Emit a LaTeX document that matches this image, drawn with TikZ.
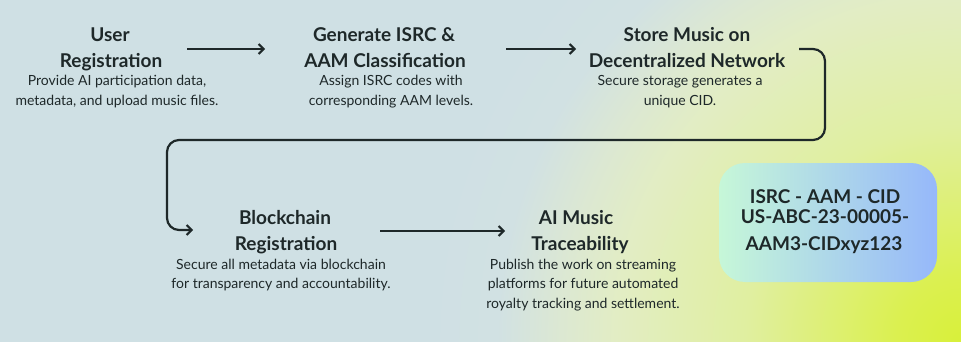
\documentclass[tikz,border=0pt]{standalone}
\usepackage{fontspec}
\setmainfont{Lato}
\usetikzlibrary{arrows.meta}
\definecolor{bg}{HTML}{CFE0E4}
\definecolor{ink}{HTML}{1E2829}
\definecolor{g0}{HTML}{D8F03A}
\definecolor{g1}{HTML}{DBF050}
\definecolor{g2}{HTML}{E0EFA0}
\definecolor{g3}{HTML}{E2EDC4}
\definecolor{g4}{HTML}{DCE8D2}
\definecolor{g5}{HTML}{D1E1E3}
\definecolor{mint}{HTML}{C6F7D8}
\definecolor{sky}{HTML}{96B8FA}
\pgfdeclareradialshading{glow}{\pgfpoint{0bp}{0bp}}{color(0bp)=(g0); color(3bp)=(g1); color(10bp)=(g2); color(16bp)=(g3); color(18.5bp)=(g4); color(21.5bp)=(g5); color(25bp)=(bg); color(50bp)=(bg)}
\begin{document}
\begin{tikzpicture}[x=1pt,y=-1pt,
  ttl/.style={anchor=base,inner sep=0pt,text=ink,font=\bfseries\fontsize{19}{22}\selectfont},
  txt/.style={anchor=base,inner sep=0pt,text=ink,font=\fontsize{14}{16}\selectfont},
  arr/.style={draw=ink,line width=2.2pt,-{Straight Barb[length=5pt,width=10pt,line width=2pt]}},
  conn/.style={draw=ink,line width=2.2pt,rounded corners=12pt,-{Straight Barb[length=5pt,width=10pt,line width=2pt]}},
  idbox/.style={rounded corners=26pt,left color=mint,right color=sky,draw=none}]
\useasboundingbox (0,0) rectangle (961,342);
\fill[bg] (0,0) rectangle (961,342);
\begin{scope}
\clip (0,0) rectangle (961,342);
\shade[shading=glow] (961,342) circle[radius=540];
\end{scope}
% step 1
\node[ttl] (s1a) at (110,42) {User};
\node[ttl] (s1b) at (111,68) {Registration};
\node[txt] (s1c) at (117,86) {Provide AI participation data,};
\node[txt] (s1d) at (117,106) {metadata, and upload music files.};
% step 2
\node[ttl] (s2a) at (384,42) {Generate ISRC \&};
\node[ttl] (s2b) at (385,68) {AAM Classification};
\node[txt] (s2c) at (391,86) {Assign ISRC codes with};
\node[txt] (s2d) at (391,106) {corresponding AAM levels.};
% step 3
\node[ttl] (s3a) at (687,42) {Store Music on};
\node[ttl] (s3b) at (687,68) {Decentralized Network};
\node[txt] (s3c) at (680,86) {Secure storage generates a};
\node[txt] (s3d) at (680,106) {unique CID.};
% step 4
\node[ttl] (s4a) at (285,224) {Blockchain};
\node[ttl] (s4b) at (286,250) {Registration};
\node[txt] (s4c) at (281,269) {Secure all metadata via blockchain};
\node[txt] (s4d) at (281,288) {for transparency and accountability.};
% step 5
\node[ttl] (s5a) at (576,224) {AI Music};
\node[ttl] (s5b) at (580,250) {Traceability};
\node[txt] (s5c) at (583,269) {Publish the work on streaming};
\node[txt] (s5d) at (583,288) {platforms for future automated};
\node[txt] (s5e) at (583,308) {royalty tracking and settlement.};
% id box
\path[idbox] (719,163) rectangle (937,282);
\node[ttl] (idA) at (825,203) {ISRC - AAM - CID};
\node[ttl] (idB) at (825,223) {US-ABC-23-00005-};
\node[ttl] (idC) at (824,250) {AAM3-CIDxyz123};
% connectors
\coordinate (a1s) at (187,49); \coordinate (a1e) at (265,49);
\coordinate (a2s) at (506,49); \coordinate (a2e) at (576,49);
\coordinate (c3s) at (799,49); \coordinate (c3r) at (825,49);
\coordinate (c3d) at (825,140); \coordinate (c3l) at (167,140);
\coordinate (c3b) at (167,230); \coordinate (c3e) at (193,230);
\coordinate (a4s) at (380,231); \coordinate (a4e) at (505,231);
\draw[arr] (a1s) -- (a1e);
\draw[arr] (a2s) -- (a2e);
\draw[conn] (c3s) -- (c3r) -- (c3d) -- (c3l) -- (c3b) -- (c3e);
\draw[arr] (a4s) -- (a4e);
\end{tikzpicture}
\end{document}
